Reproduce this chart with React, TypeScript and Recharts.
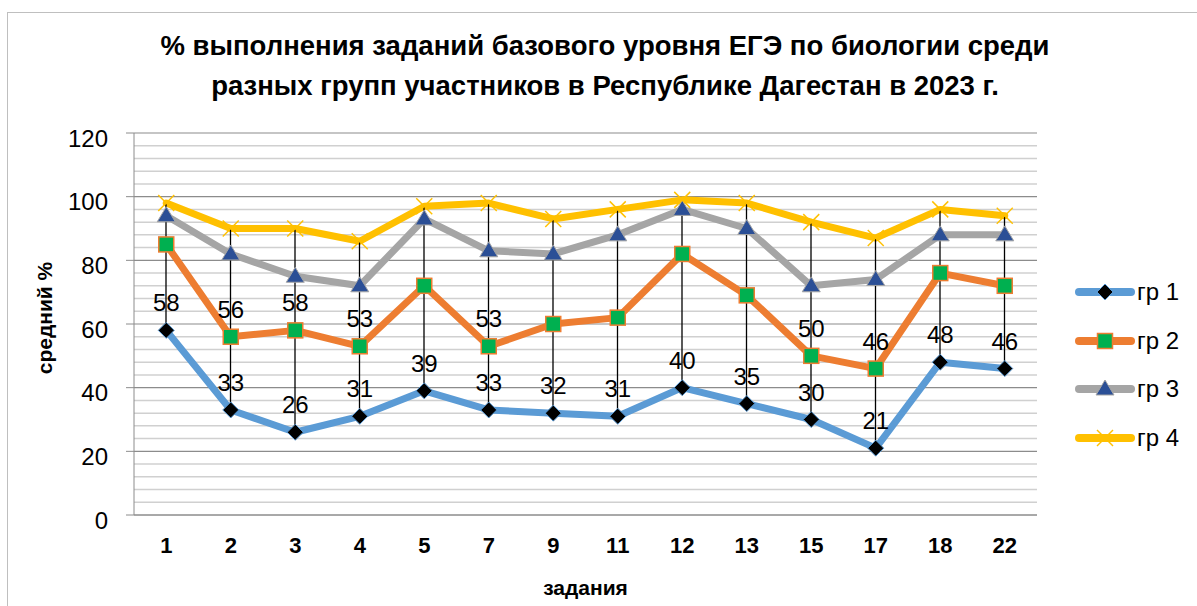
import React from 'react';
import {
  ComposedChart,
  Line,
  Bar,
  XAxis,
  YAxis,
  ReferenceLine,
  LabelList,
  Legend,
  Label,
} from 'recharts';

const tasks = ['1', '2', '3', '4', '5', '7', '9', '11', '12', '13', '15', '17', '18', '22'];
const gr1 = [58, 33, 26, 31, 39, 33, 32, 31, 40, 35, 30, 21, 48, 46];
const gr2 = [85, 56, 58, 53, 72, 53, 60, 62, 82, 69, 50, 46, 76, 72];
const gr3 = [94, 82, 75, 72, 93, 83, 82, 88, 96, 90, 72, 74, 88, 88];
const gr4 = [98, 90, 90, 86, 97, 98, 93, 96, 99, 98, 92, 87, 96, 94];
// only some gr2 points carry a value label in the original
const gr2Labelled = [false, true, true, true, false, true, false, false, false, false, true, true, false, false];

const majorTicks = [0, 20, 40, 60, 80, 100, 120];
const minorTicks = [4, 8, 12, 16, 24, 28, 32, 36, 44, 48, 52, 56, 64, 68, 72, 76, 84, 88, 92, 96, 104, 108, 112, 116];

const data = tasks.map((t, i) => ({
  task: t,
  gr1: gr1[i],
  gr2: gr2[i],
  gr3: gr3[i],
  gr4: gr4[i],
  range: [gr1[i], gr4[i]],
}));

const FONT = '"Liberation Sans", Arial, sans-serif';

const BLUE = '#5B9BD5';
const ORANGE = '#ED7D31';
const GRAY = '#A5A5A5';
const YELLOW = '#FFC000';

type MarkerKind = 'diamond' | 'square' | 'triangle' | 'cross';

function Marker({ kind, cx, cy }: { kind: MarkerKind; cx: number; cy: number }) {
  if (kind === 'diamond') {
    const r = 8;
    return (
      <polygon
        points={`${cx},${cy - r} ${cx + r},${cy} ${cx},${cy + r} ${cx - r},${cy}`}
        fill="#000"
        stroke={BLUE}
        strokeWidth={1}
      />
    );
  }
  if (kind === 'square') {
    const r = 7.5;
    return <rect x={cx - r} y={cy - r} width={r * 2} height={r * 2} fill="#00B050" stroke={ORANGE} strokeWidth={1.5} />;
  }
  if (kind === 'triangle') {
    return (
      <polygon
        points={`${cx},${cy - 9} ${cx + 9},${cy + 6} ${cx - 9},${cy + 6}`}
        fill="#2B4F96"
        stroke={GRAY}
        strokeWidth={1}
      />
    );
  }
  const r = 8;
  return (
    <g stroke={YELLOW} strokeWidth={1.5}>
      <line x1={cx - r} y1={cy - r} x2={cx + r} y2={cy + r} />
      <line x1={cx - r} y1={cy + r} x2={cx + r} y2={cy - r} />
    </g>
  );
}

const series: { key: 'gr1' | 'gr2' | 'gr3' | 'gr4'; name: string; color: string; marker: MarkerKind }[] = [
  { key: 'gr1', name: 'гр 1', color: BLUE, marker: 'diamond' },
  { key: 'gr2', name: 'гр 2', color: ORANGE, marker: 'square' },
  { key: 'gr3', name: 'гр 3', color: GRAY, marker: 'triangle' },
  { key: 'gr4', name: 'гр 4', color: YELLOW, marker: 'cross' },
];

const dropLine = (props: any) => {
  const { x, y, width, height } = props;
  const cx = x + width / 2;
  return <line x1={cx} x2={cx} y1={y} y2={y + height} stroke="#000" strokeWidth={1.3} />;
};

const valueLabel = (show?: boolean[]) => (props: any) => {
  const { x, y, value, index } = props;
  if (show && !show[index]) return null;
  return (
    <text x={x} y={y - 19} textAnchor="middle" fontSize={24} fill="#000" fontFamily={FONT}>
      {value}
    </text>
  );
};

const renderLegend = () => (
  <div style={{ fontFamily: FONT }}>
    {series.map((s) => (
      <div key={s.key} style={{ display: 'flex', alignItems: 'center', height: 48.5 }}>
        <svg width={62} height={24}>
          <line x1={5} x2={57} y1={12} y2={12} stroke={s.color} strokeWidth={8} strokeLinecap="round" />
          <Marker kind={s.marker} cx={31} cy={12} />
        </svg>
        <span style={{ fontSize: 24, color: '#000', marginLeft: 1 }}>{s.name}</span>
      </div>
    ))}
  </div>
);

export default function App() {
  return (
    <div
      style={{
        position: 'fixed',
        left: 0,
        top: 0,
        width: 1197,
        height: 606,
        overflow: 'hidden',
        background: '#fff',
        fontFamily: FONT,
      }}
    >
      <div
        style={{
          position: 'absolute',
          left: 7,
          top: 12,
          width: 1210,
          height: 620,
          border: '1px solid #BFBFBF',
        }}
      />
      <div
        style={{
          position: 'absolute',
          left: 0,
          width: 1210,
          top: 26,
          textAlign: 'center',
          fontSize: 27.5,
          fontWeight: 'bold',
          lineHeight: '40px',
          color: '#000',
        }}
      >
        % выполнения заданий базового уровня ЕГЭ по биологии среди
        <br />
        разных групп участников в Республике Дагестан в 2023 г.
      </div>
      <div style={{ position: 'absolute', left: 0, top: 0 }}>
        <ComposedChart
          width={1197}
          height={606}
          data={data}
          margin={{ top: 133, right: 160, bottom: 31, left: 20 }}
        >
          {minorTicks.map((v) => (
            <ReferenceLine key={'m' + v} y={v} stroke="#D0D0D0" strokeWidth={1.5} />
          ))}
          {majorTicks.map((v) => (
            <ReferenceLine key={'M' + v} y={v} stroke="#8C8C8C" strokeWidth={1.2} />
          ))}
          <XAxis
            dataKey="task"
            axisLine={{ stroke: '#8C8C8C' }}
            tickLine={false}
            tickSize={0}
            tickMargin={22}
            height={60}
            interval={0}
            tick={{ fontSize: 22, fontWeight: 'bold', fill: '#000', fontFamily: FONT }}
          >
            <Label
              value="задания"
              position="bottom"
              offset={5}
              style={{ fontSize: 21, fontWeight: 'bold', fill: '#000', fontFamily: FONT }}
            />
          </XAxis>
          <YAxis
            domain={[0, 120]}
            ticks={majorTicks}
            width={114}
            tickSize={8}
            tickMargin={18}
            axisLine={{ stroke: '#8C8C8C' }}
            tickLine={{ stroke: '#8C8C8C' }}
            tick={{ fontSize: 24, fill: '#000', fontFamily: FONT, dy: 5 }}
          >
            <Label
              content={() => (
                <text
                  x={44}
                  y={318}
                  transform="rotate(-90, 44, 318)"
                  textAnchor="middle"
                  dominantBaseline="central"
                  fontSize={21}
                  fontWeight="bold"
                  fontFamily={FONT}
                  fill="#000"
                >
                  средний %
                </text>
              )}
            />
          </YAxis>
          {series.map((s) => (
            <Line
              key={s.key}
              dataKey={s.key}
              name={s.name}
              type="linear"
              stroke={s.color}
              strokeWidth={7}
              strokeLinejoin="round"
              strokeLinecap="round"
              isAnimationActive={false}
              dot={(p: any) => <Marker key={s.key + p.index} kind={s.marker} cx={p.cx} cy={p.cy} />}
              activeDot={false}
            >
              {s.key === 'gr1' && <LabelList dataKey="gr1" content={valueLabel()} />}
              {s.key === 'gr2' && <LabelList dataKey="gr2" content={valueLabel(gr2Labelled)} />}
            </Line>
          ))}
          <Bar
            dataKey="range"
            barSize={2}
            shape={dropLine}
            isAnimationActive={false}
            legendType="none"
            zIndex={450}
          />
          <Legend
            layout="horizontal"
            verticalAlign="middle"
            align="center"
            content={renderLegend}
            wrapperStyle={{ position: 'absolute', left: 1074, top: 268, width: 120 }}
          />
        </ComposedChart>
      </div>
    </div>
  );
}
